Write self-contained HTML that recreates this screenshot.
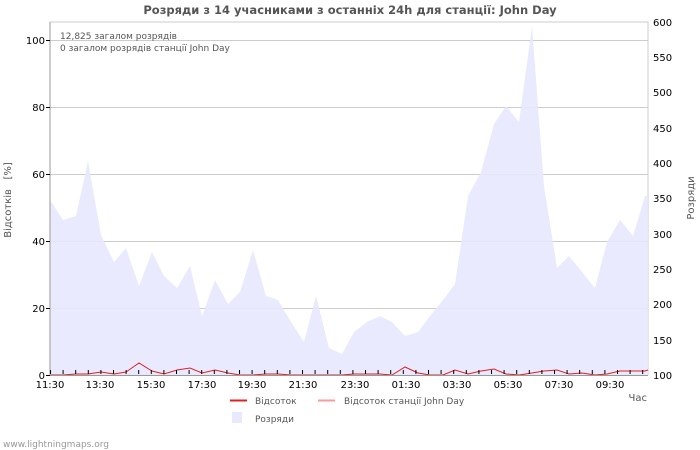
<!DOCTYPE html>
<html><head><meta charset="utf-8"><style>
body{margin:0;background:#fff;}
svg{display:block;font-family:"DejaVu Sans","Liberation Sans",sans-serif;}
</style></head><body>
<svg width="700" height="450" viewBox="0 0 700 450">
<defs>
<pattern id="rt" x="0" y="374.5" width="10" height="7.06" patternUnits="userSpaceOnUse"><line x1="0" y1="0.5" x2="4" y2="0.5" stroke="#000" stroke-width="1"/></pattern>
<pattern id="bt" x="50" y="0" width="12.6" height="10" patternUnits="userSpaceOnUse"><line x1="0.5" y1="0" x2="0.5" y2="10" stroke="#000" stroke-width="1"/></pattern>
</defs>
<text x="350" y="14" text-anchor="middle" font-size="11.5" font-weight="bold" fill="#555">Розряди з 14 учасниками з останніх 24h для станції: John Day</text>
<rect x="50" y="22" width="598" height="353" fill="#fff" stroke="#ccc"/>
<g stroke="#ccc" stroke-width="1">
<line x1="50" y1="40.5" x2="648" y2="40.5"/><line x1="50" y1="107.5" x2="648" y2="107.5"/>
<line x1="50" y1="174.5" x2="648" y2="174.5"/><line x1="50" y1="241.5" x2="648" y2="241.5"/>
<line x1="50" y1="308.5" x2="648" y2="308.5"/>
</g>
<polygon fill="#e8e8ff" fill-opacity="0.9" points="50,375 50,200 63,220 76,216 88,161 101,235 114,262 126,248 139,286 152,252 164,276 177,288 190,266 202,316 215,280 228,304 240,292 253,250 266,296 278,300 291,322 304,342 316,296 329,348 342,354 354,332 367,322 380,316 392,322 405,336 418,332 430,316 443,300 455,284 468,196 481,172 494,124 506,106 519,122 532,26 544,186 557,268 569,256 582,272 595,288 607,242 620,220 633,236 645,196 648,196 648,375"/>
<polyline fill="none" stroke="#d22" stroke-width="1" points="50,375 63,375 76,374 88,374 101,372 114,374 126,372 139,363 152,371 164,374 177,370 190,368 202,373 215,370 228,373 240,375 253,375 266,374 278,374 291,375 304,375 316,375 329,375 342,375 354,374 367,374 380,374 392,375 405,367 418,373 430,375 443,375 455,370 468,374 481,371 494,369 506,374 519,375 532,373 544,371 557,370 569,374 582,373 595,375 607,374 620,371 633,371 645,371 648,370"/>
<line x1="50" y1="22" x2="50" y2="375" stroke="#999"/>
<line x1="50" y1="375.5" x2="648" y2="375.5" stroke="#999"/>
<rect x="644" y="22" width="5" height="354" fill="url(#rt)"/>
<rect x="50" y="370" width="598" height="4" fill="url(#bt)"/>
<g font-size="10" fill="#000" text-anchor="end">
<text x="45" y="379">0</text><text x="45" y="312">20</text><text x="45" y="245">40</text>
<text x="45" y="178">60</text><text x="45" y="111">80</text><text x="45" y="44">100</text>
</g>
<g stroke="#000"><line x1="46" y1="375.5" x2="50" y2="375.5"/><line x1="46" y1="308.5" x2="50" y2="308.5"/><line x1="46" y1="241.5" x2="50" y2="241.5"/><line x1="46" y1="174.5" x2="50" y2="174.5"/><line x1="46" y1="107.5" x2="50" y2="107.5"/><line x1="46" y1="40.5" x2="50" y2="40.5"/></g>
<g font-size="10" fill="#000">
<text x="653" y="379">100</text><text x="653" y="344">150</text><text x="653" y="308">200</text>
<text x="653" y="273">250</text><text x="653" y="238">300</text><text x="653" y="202">350</text>
<text x="653" y="167">400</text><text x="653" y="132">450</text><text x="653" y="96">500</text>
<text x="653" y="61">550</text><text x="653" y="26">600</text>
</g>
<g font-size="10" fill="#000" text-anchor="middle">
<text x="50" y="388">11:30</text><text x="100" y="388">13:30</text><text x="151" y="388">15:30</text>
<text x="202" y="388">17:30</text><text x="252" y="388">19:30</text><text x="303" y="388">21:30</text>
<text x="355" y="388">23:30</text><text x="406" y="388">01:30</text><text x="457" y="388">03:30</text>
<text x="508" y="388">05:30</text><text x="559" y="388">07:30</text><text x="610" y="388">09:30</text>
</g>
<text x="647" y="401" font-size="10" fill="#555" text-anchor="end">Час</text>
<text x="11" y="200" font-size="10" fill="#555" text-anchor="middle" xml:space="preserve" style="white-space:pre" transform="rotate(-90 11 200)">Відсотків   [%]</text>
<text x="694" y="198" font-size="10" fill="#555" text-anchor="middle" transform="rotate(-90 694 198)">Розряди</text>
<text x="60" y="39" font-size="9" fill="#555">12,825 загалом розрядів</text>
<text x="60" y="51" font-size="9" fill="#555">0 загалом розрядів станції John Day</text>
<line x1="230" y1="400.5" x2="247" y2="400.5" stroke="#d22" stroke-width="2"/>
<text x="255" y="404" font-size="9" fill="#555">Відсоток</text>
<line x1="318" y1="400.5" x2="335" y2="400.5" stroke="#f99" stroke-width="2"/>
<text x="344" y="404" font-size="9" fill="#555">Відсоток станції John Day</text>
<rect x="232" y="412" width="10" height="11" fill="#e8e8ff"/>
<text x="255" y="422" font-size="9" fill="#555">Розряди</text>
<text x="3" y="447" font-size="9" fill="#999">www.lightningmaps.org</text>
</svg>
</body></html>
